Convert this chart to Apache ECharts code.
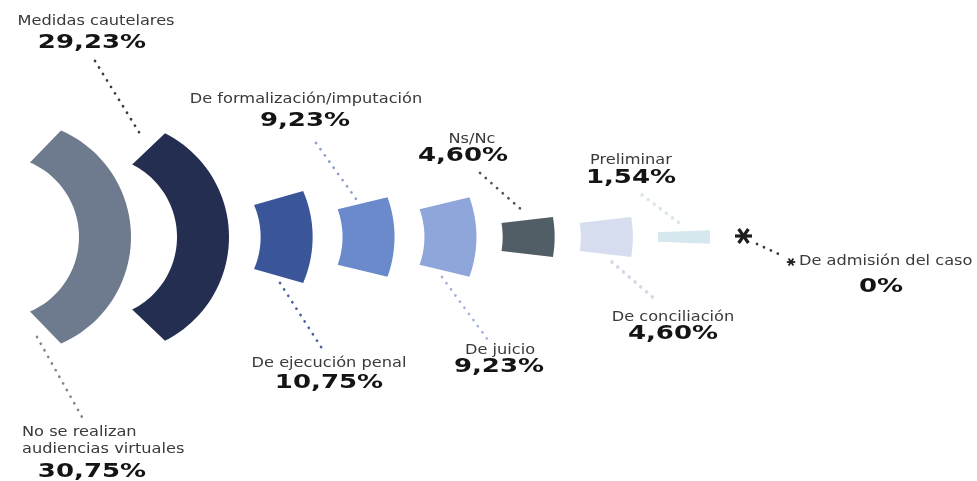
<!DOCTYPE html>
<html>
<head>
<meta charset="utf-8">
<title>Audiencias virtuales</title>
<script src="https://cdn.jsdelivr.net/npm/echarts@6/dist/echarts.min.js"></script>
<style>
  html, body { margin: 0; padding: 0; background: #ffffff; }
  #chart { width: 977px; height: 481px; }
</style>
</head>
<body>
<div id="chart"></div>
<script>
// tipos de audiencia (de izquierda a derecha)
const categories = [
  'No se realizan\naudiencias virtuales',
  'Medidas cautelares',
  'De ejecución penal',
  'De formalización/imputación',
  'De juicio',
  'Ns/Nc',
  'De conciliación',
  'Preliminar',
  'De admisión del caso'
]
// porcentajes
const values = [30.75, 29.23, 10.75, 9.23, 9.23, 4.60, 4.60, 1.54, 0]
const valueLabels = values.map(v => v === 0 ? '0%' : v.toFixed(2).replace('.', ',') + '%')

// colores de cada arco y de su línea de puntos
const colors = ['#6e7a8e', '#232e50', '#3b5599', '#6b8acc', '#8fa6db', '#525e66', '#d6ddef', '#d6e7ee', '#1e1e1e']
const dotColors = ['#80858f', '#343a48', '#4b60a0', '#8c9fcc', '#a3b3dc', '#4d5358', '#d3d9e8', '#dbe7ed', '#3a3a3a']

// donde van los textos (px): nombre, porcentaje
const labelPos = [
  { name: [22, 441], value: [92, 472], align: 'left' },
  { name: [96, 21], value: [92, 43] },
  { name: [329, 363], value: [329, 383] },
  { name: [306, 99], value: [305, 121] },
  { name: [500, 350], value: [499, 367] },
  { name: [472, 139], value: [463, 156] },
  { name: [673, 317], value: [673, 334] },
  { name: [631, 160], value: [631, 178] },
  { name: [799, 261], value: [881, 287], align: 'left' }
]
// líneas de puntos (px)
const leaders = [
  [37, 337, 82, 417],
  [95, 61, 142, 137],
  [280, 283, 323, 350],
  [316, 143, 359, 203],
  [442, 277, 488, 340],
  [480, 173, 524, 212],
  [612, 262, 657, 301],
  [642, 195, 682, 225],
  [757, 244, 783, 256]
]

// geometría de los arcos
const ARC_R = 116   // radio del borde exterior
const RING = 52     // grosor sobre el eje central
const SHRINK = 0.7  // el borde interior es el exterior escalado hacia el punto de fuga
const GAP = 25      // separación entre piezas
const NEST = 21     // los arcos grandes se encajan
const START_X = 79

const chart = echarts.init(document.getElementById('chart'))

function layout(api) {
  const cy = api.coord([0, 0])[1]
  let prevOuter = 0
  return values.map((v, i) => {
    const theta = api.size([0, v])[1] / (2 * ARC_R)
    const si = SHRINK * ARC_R * (1 - Math.cos(theta))
    const inner = i === 0 ? START_X : prevOuter + GAP + Math.min(si, NEST)
    const outer = inner + RING
    prevOuter = outer
    return { inner, outer, theta, cy }
  })
}

function arcPoints(g) {
  const cx = g.outer - ARC_R
  const px = g.outer - RING / (1 - SHRINK)
  const n = 48
  const outerPts = []
  for (let k = 0; k <= n; k++) {
    const a = -g.theta + 2 * g.theta * k / n
    outerPts.push([cx + ARC_R * Math.cos(a), g.cy + ARC_R * Math.sin(a)])
  }
  const pts = outerPts.slice()
  for (let k = n; k >= 0; k--) {
    const p = outerPts[k]
    pts.push([px + SHRINK * (p[0] - px), g.cy + SHRINK * (p[1] - g.cy)])
  }
  return pts
}

function asterisk(x, y, size, width, color) {
  return [0, 55, 125].map(deg => {
    const a = deg * Math.PI / 180
    const dx = Math.cos(a) * size
    const dy = Math.sin(a) * size
    return {
      type: 'line',
      shape: { x1: x - dx, y1: y - dy, x2: x + dx, y2: y + dy },
      style: { stroke: color, lineWidth: width }
    }
  })
}

function textEl(pos, text, align, isValue) {
  return {
    type: 'text',
    x: pos[0],
    y: pos[1],
    scaleX: isValue ? 1.3 : 1.2,
    silent: true,
    style: {
      text: text,
      font: isValue ? 'bold 20px "DejaVu Sans"' : '13.5px "DejaVu Sans"',
      fill: isValue ? '#141414' : '#3a3a3a',
      align: align,
      verticalAlign: 'middle',
      lineHeight: 16.5
    }
  }
}

function renderItem(params, api) {
  const i = params.dataIndex
  const g = layout(api)[i]
  const children = []
  const l = leaders[i]
  children.push({
    type: 'line',
    shape: { x1: l[0], y1: l[1], x2: l[2], y2: l[3] },
    style: {
      stroke: dotColors[i],
      lineWidth: (i === 6 || i === 7) ? 3.6 : 2.7,
      lineDash: [0.1, 7.5],
      lineCap: 'round'
    }
  })
  if (values[i] > 0) {
    children.push({ type: 'polygon', shape: { points: arcPoints(g) }, style: { fill: colors[i] } })
  } else {
    // sin valor: asterisco
    asterisk(g.inner + 8.5, g.cy - 1, 8.5, 3.2, colors[i]).forEach(c => children.push(c))
    asterisk(791, 262, 4.2, 1.8, colors[i]).forEach(c => children.push(c))
  }
  const lp = labelPos[i]
  children.push(textEl(lp.name, categories[i], lp.align || 'center', false))
  children.push(textEl(lp.value, valueLabels[i], 'center', true))
  return { type: 'group', children: children }
}

const option = {
  animation: false,
  grid: { left: 0, right: 0, top: 0, bottom: 7 },
  xAxis: { type: 'category', data: categories, show: false },
  yAxis: { type: 'value', min: -27, max: 27, show: false },
  series: [
    {
      type: 'custom',
      renderItem: renderItem,
      encode: { x: 0, y: 1 },
      data: values.map((v, i) => [i, v])
    }
  ]
}
chart.setOption(option)
</script>
</body>
</html>
